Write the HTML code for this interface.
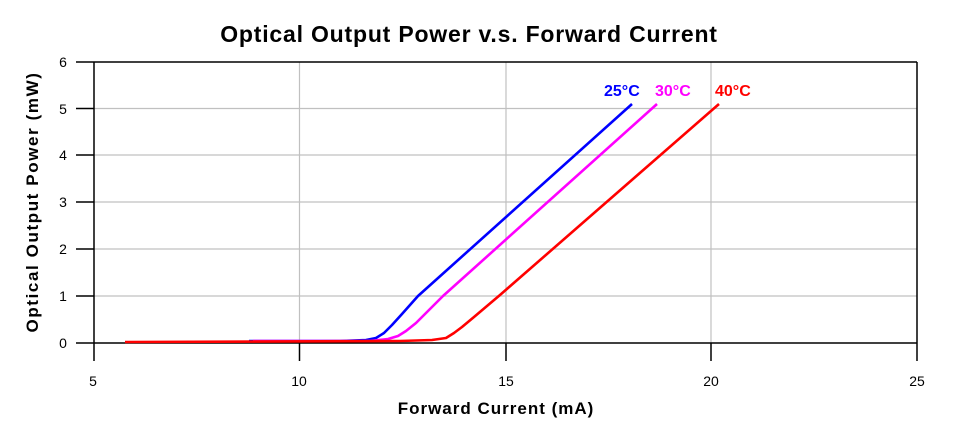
<!DOCTYPE html>
<html><head><style>
body{margin:0;background:#fff;}
svg{display:block;font-family:"Liberation Sans",Arial,sans-serif;}
</style></head><body>
<svg width="961" height="435" viewBox="0 0 961 435">
<rect width="961" height="435" fill="#fff"/>
<text x="469" y="42" font-size="23" font-weight="bold" text-anchor="middle" letter-spacing="0.8">Optical Output Power v.s. Forward Current</text>
<g stroke="#c0c0c0" stroke-width="1.2">
<line x1="299.5" y1="62" x2="299.5" y2="343"/>
<line x1="506" y1="62" x2="506" y2="343"/>
<line x1="711" y1="62" x2="711" y2="343"/>
<line x1="94" y1="108.5" x2="917" y2="108.5"/>
<line x1="94" y1="155" x2="917" y2="155"/>
<line x1="94" y1="202" x2="917" y2="202"/>
<line x1="94" y1="249" x2="917" y2="249"/>
<line x1="94" y1="296" x2="917" y2="296"/>
</g>
<g stroke="#000" stroke-width="1.5" fill="none">
<line x1="76" y1="62" x2="917" y2="62"/>
<line x1="917" y1="62" x2="917" y2="343"/>
<line x1="94" y1="62" x2="94" y2="361"/>
<line x1="76" y1="343" x2="917" y2="343"/>
<line x1="76" y1="108.5" x2="94" y2="108.5"/>
<line x1="76" y1="155" x2="94" y2="155"/>
<line x1="76" y1="202" x2="94" y2="202"/>
<line x1="76" y1="249" x2="94" y2="249"/>
<line x1="76" y1="296" x2="94" y2="296"/>
<line x1="299.5" y1="343" x2="299.5" y2="361"/>
<line x1="506" y1="343" x2="506" y2="361"/>
<line x1="711" y1="343" x2="711" y2="361"/>
<line x1="917" y1="343" x2="917" y2="361"/>
</g>
<g font-size="14" text-anchor="middle">
<text x="63" y="67">6</text><text x="63" y="114">5</text><text x="63" y="160">4</text>
<text x="63" y="207">3</text><text x="63" y="254">2</text><text x="63" y="301">1</text><text x="63" y="348">0</text>
<text x="93" y="386">5</text><text x="299" y="386">10</text><text x="506" y="386">15</text>
<text x="711" y="386">20</text><text x="917" y="386">25</text>
</g>
<text x="496" y="414" font-size="17" font-weight="bold" text-anchor="middle" letter-spacing="1">Forward Current (mA)</text>
<text transform="translate(38,202) rotate(-90)" font-size="17" font-weight="bold" text-anchor="middle" letter-spacing="1.6">Optical Output Power (mW)</text>
<g fill="none" stroke-width="2.6" stroke-linejoin="round">
<polyline stroke="#0000ff" points="249,341 340,341 366,340 376,338 384,333 392,325 402,314 418,296 632,104"/>
<polyline stroke="#ff00ff" points="253,341 370,341 388,339 398,336 406,331 416,323 428,311 443,296 657,104"/>
<polyline stroke="#ff0000" points="125,342 400,341 432,340 446,338 454,333 462,327 474,317 500,295 719,104"/>
</g>
<g font-size="16" font-weight="bold">
<text x="604" y="96" fill="#0000ff">25°C</text>
<text x="655" y="96" fill="#ff00ff">30°C</text>
<text x="715" y="96" fill="#ff0000">40°C</text>
</g>
</svg>
</body></html>
